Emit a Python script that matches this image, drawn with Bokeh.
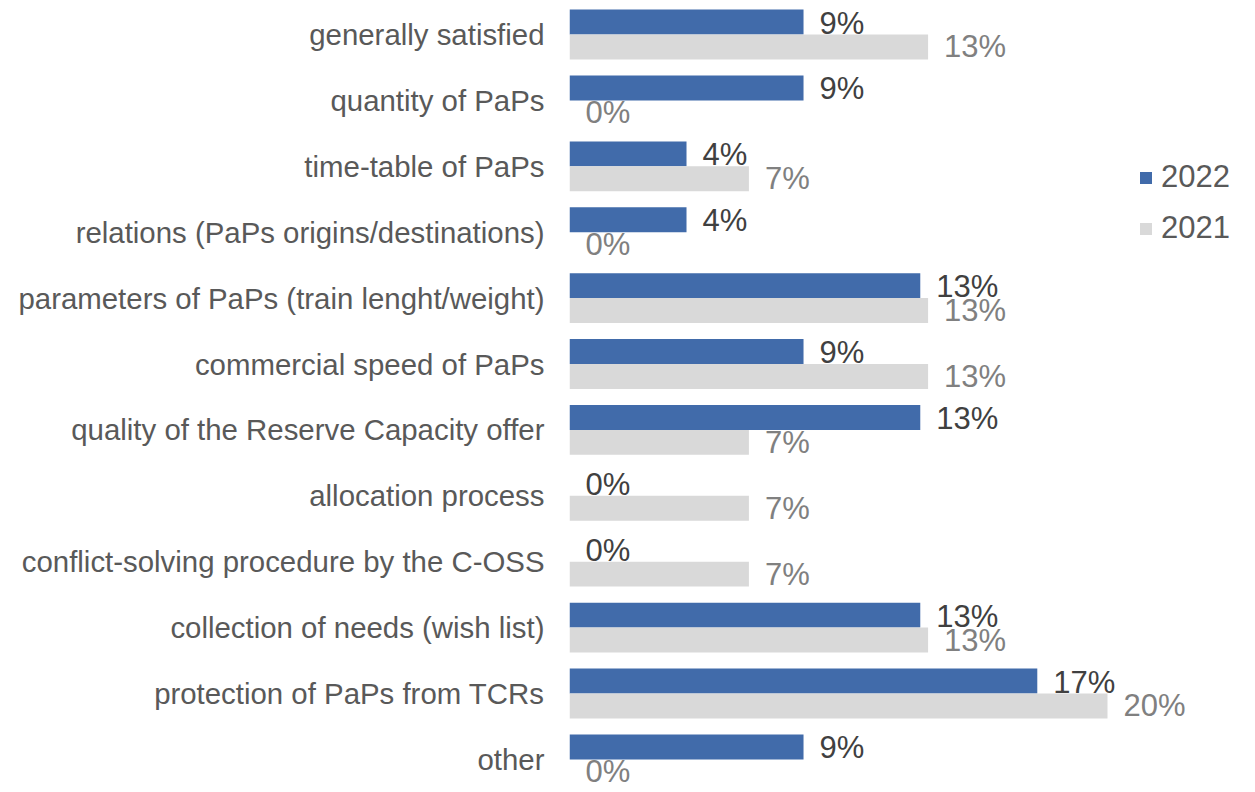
from bokeh.plotting import figure
from bokeh.models import (ColumnDataSource, Range1d, FixedTicker, Legend, LegendItem)
from bokeh.transform import dodge
from bokeh.core.properties import value
from bokeh.embed import file_html
from bokeh.resources import INLINE

categories = [
    "generally satisfied",
    "quantity of PaPs",
    "time-table of PaPs",
    "relations (PaPs origins/destinations)",
    "parameters of PaPs (train lenght/weight)",
    "commercial speed of PaPs",
    "quality of the Reserve Capacity offer",
    "allocation process",
    "conflict-solving procedure by the C-OSS",
    "collection of needs (wish list)",
    "protection of PaPs from TCRs",
    "other",
]
values_2022 = [8.7, 8.7, 4.35, 4.35, 13.04, 8.7, 13.04, 0.0, 0.0, 13.04, 17.39, 8.7]
values_2021 = [13.33, 0.0, 6.67, 0.0, 13.33, 13.33, 6.67, 6.67, 6.67, 13.33, 20.0, 0.0]

FONT = "Liberation Sans"
BLUE = "#416BAA"
GRAY = "#D9D9D9"

idx = list(range(len(categories)))
src = ColumnDataSource(dict(
    y=idx,
    v22=values_2022,
    v21=values_2021,
    l22=[f"{round(v)}%" for v in values_2022],
    l21=[f"{round(v)}%" for v in values_2021],
))

W, H = 1255, 792
left = 569
px_per_unit = 26.9
pitch = 65.9
top_off = 34.0

p = figure(width=W, height=H, output_backend="svg", toolbar_location=None,
           x_range=Range1d(0, (W - left) / px_per_unit),
           y_range=Range1d((H - top_off) / pitch, -top_off / pitch),
           min_border_left=left, min_border_right=0, min_border_top=0, min_border_bottom=0)
p.outline_line_color = None
p.xgrid.visible = False
p.ygrid.visible = False
p.xaxis.visible = False

bh = 0.378
off = bh / 2
r22 = p.hbar(y=dodge("y", -off, range=p.y_range), right="v22", left=0, height=bh,
             source=src, fill_color=BLUE, line_color=None)
r21 = p.hbar(y=dodge("y", off, range=p.y_range), right="v21", left=0, height=bh,
             source=src, fill_color=GRAY, line_color=None)

p.text(x="v22", y=dodge("y", -off, range=p.y_range), text="l22", source=src,
       x_offset=16, y_offset=1, text_align="left", text_baseline="middle",
       text_font=value(FONT), text_font_size="31px", text_color="#404040")
p.text(x="v21", y=dodge("y", off, range=p.y_range), text="l21", source=src,
       x_offset=16, y_offset=0, text_align="left", text_baseline="middle",
       text_font=value(FONT), text_font_size="31px", text_color="#808080")

ax = p.yaxis[0]
ax.ticker = FixedTicker(ticks=idx)
ax.major_label_overrides = {i: c for i, c in enumerate(categories)}
ax.axis_line_color = None
ax.major_tick_line_color = None
ax.minor_tick_line_color = None
ax.major_tick_out = 0
ax.major_tick_in = 0
ax.major_label_standoff = 25
ax.major_label_text_font = FONT
ax.major_label_text_font_size = "29.4px"
ax.major_label_text_color = "#595959"

legend = Legend(items=[LegendItem(label="2022", renderers=[r22]),
                       LegendItem(label="2021", renderers=[r21])],
                location=(569, 545), padding=0, margin=0, spacing=13,
                glyph_width=15, glyph_height=15, label_height=38, label_standoff=8,
                label_text_font=FONT, label_text_font_size="31px",
                label_text_color="#595959", border_line_color=None,
                background_fill_alpha=0)
p.add_layout(legend)

open("out.html", "w").write(file_html(p, INLINE))
